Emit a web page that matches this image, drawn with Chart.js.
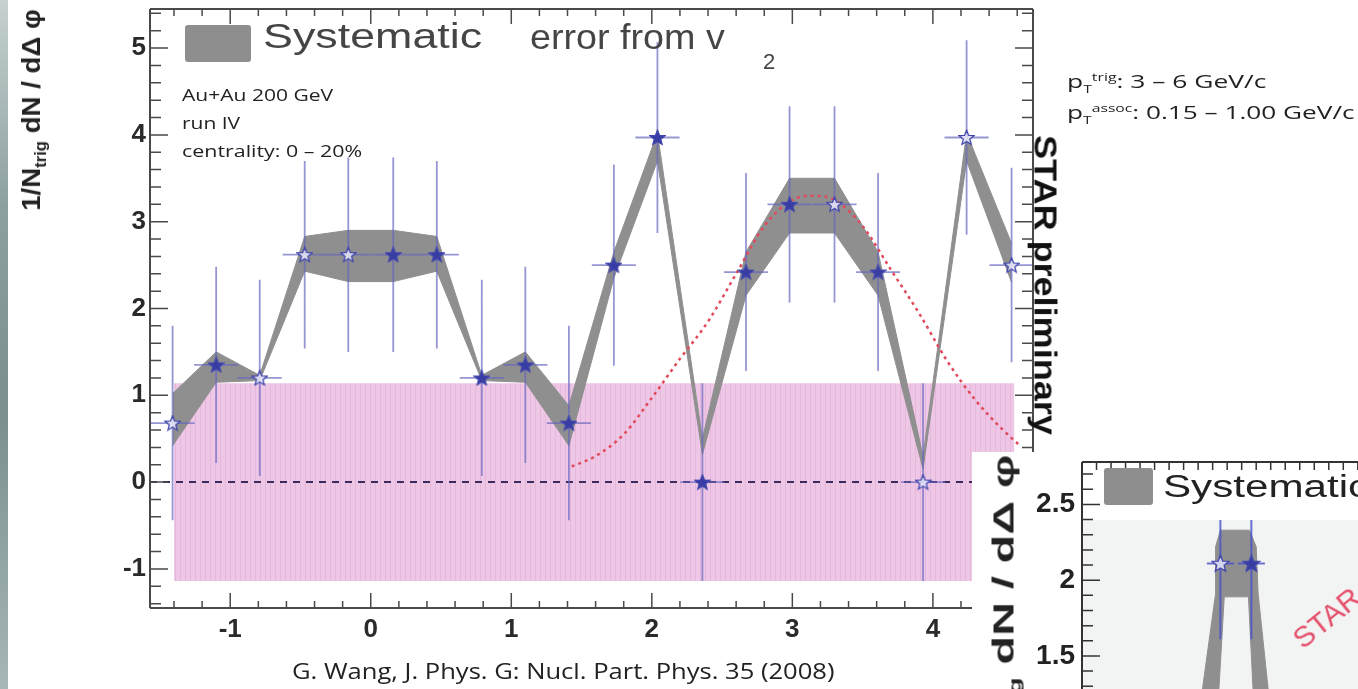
<!DOCTYPE html>
<html>
<head>
<meta charset="utf-8">
<title>Di-hadron correlation, Au+Au 200 GeV</title>
<script src="https://cdn.jsdelivr.net/npm/chart.js@4.4.1/dist/chart.umd.min.js"></script>
<style>
  html, body { margin: 0; padding: 0; background: #fff; width: 1358px; height: 689px; overflow: hidden; }
  canvas { position: absolute; left: 0; top: 0; }
  .t { position: absolute; white-space: nowrap; line-height: 1; transform-origin: 0 0; }
  .note { font-family: "Open Sans", sans-serif; color: #222; }
  .helv { font-family: "Liberation Sans", Arial, sans-serif; }
  sub, sup { line-height: 0; }
  #strip { position: absolute; left: 0; top: 0; width: 8px; height: 689px;
           background: linear-gradient(#c6d1d1, #8d9f9f 30%, #7b8f8f 60%, #a7b6b6); }
  #inset { position: absolute; left: 972px; top: 452px; width: 386px; height: 237px; overflow: hidden; background: #fff; }
  .swatch { position: absolute; background: #8e8e8e; border-radius: 3px; }
</style>
</head>
<body>
<div id="strip"></div>
<canvas id="mainChart" width="1358" height="689"></canvas>

<div class="swatch" style="left:185px;top:25px;width:66px;height:37px;"></div>
<div class="t helv" id="legA" style="font-size:35px;color:#454545;">Systematic</div>
<div class="t helv" id="legB" style="font-size:35px;color:#454545;">error from v</div>
<div class="t helv" id="legC" style="font-size:22px;color:#454545;">2</div>

<div class="t note" id="ann1" style="font-size:17px;">Au+Au 200 GeV</div>
<div class="t note" id="ann2" style="font-size:17px;">run IV</div>
<div class="t note" id="ann3" style="font-size:17px;">centrality: 0 – 20%</div>

<div class="t note" id="pt1" style="font-size:19px;">p<sub style="font-size:0.6em">T</sub><sup style="font-size:0.6em">trig</sup>: 3 – 6 GeV/c</div>
<div class="t note" id="pt2" style="font-size:19px;">p<sub style="font-size:0.6em">T</sub><sup style="font-size:0.6em">assoc</sup>: 0.15 – 1.00 GeV/c</div>

<div class="t helv" id="yTitle" style="font-size:26px;font-weight:bold;color:#222;">1/N<sub style="font-size:0.6em">trig</sub> dN / dΔ φ</div>
<div class="t helv" id="star" style="font-size:31px;font-weight:bold;color:#111;">STAR preliminary</div>
<div class="t note" id="caption" style="font-size:21px;">G. Wang, J. Phys. G: Nucl. Part. Phys. 35 (2008)</div>

<div id="inset">
  <canvas id="insetChart" width="420" height="320"></canvas>
  <div class="swatch" style="left:132px;top:16px;width:49px;height:37px;"></div>
  <div class="t helv" id="insLeg" style="font-size:31px;color:#222;">Systematic&nbsp;&nbsp;&nbsp;&nbsp;error from v<sub style="font-size:0.6em">2</sub></div>
  <div class="t helv" id="insTitle" style="font-size:29px;font-weight:bold;color:#222;">1/N<sub style="font-size:0.6em">trig</sub> dN / dΔ φ</div>
  <div class="t helv" id="insStar" style="font-size:30px;color:#e5506c;">STAR preliminary</div>
</div>

<script>
// ---- main panel data ----
const binCenters  = [-1.41, -1.10, -0.79, -0.47, -0.16, 0.16, 0.47, 0.79, 1.10, 1.41,
                      1.73, 2.04, 2.36, 2.67, 2.98, 3.30, 3.61, 3.93, 4.24, 4.56];
const yieldValues = [0.68, 1.35, 1.20, 2.62, 2.62, 2.62, 2.62, 1.20, 1.35, 0.68,
                     2.50, 3.97, 0.00, 2.42, 3.20, 3.20, 2.42, 0.00, 3.97, 2.50];
const statErrors  = [1.12, 1.13, 1.13, 1.08, 1.12, 1.12, 1.08, 1.13, 1.13, 1.12,
                     1.16, 1.10, 1.14, 1.14, 1.13, 1.13, 1.14, 1.14, 1.12, 1.12];
const binHalfWidth = 0.157;
const sysUpper = [1.02, 1.50, 1.23, 2.83, 2.90, 2.90, 2.83, 1.23, 1.50, 0.88,
                  2.65, 4.02, 0.50, 2.65, 3.50, 3.50, 2.65, 0.30, 4.02, 2.75];
const sysLower = [0.42, 1.15, 1.17, 2.43, 2.31, 2.31, 2.43, 1.17, 1.15, 0.42,
                  2.35, 3.70, 0.32, 2.15, 2.87, 2.87, 2.15, 0.15, 3.70, 2.30];
const openMarker = [true, false, true, true, true, false, false, false, false, false,
                    false, false, false, false, false, true, false, true, true, true];

// dotted red curve (v2 modulated background shape)
const curveX = [1.43, 1.60, 1.80, 2.00, 2.20, 2.40, 2.60, 2.80, 3.00, 3.14,
                3.30, 3.50, 3.70, 3.90, 4.10, 4.30, 4.50, 4.62];
const curveY = [0.18, 0.30, 0.55, 0.97, 1.42, 1.85, 2.40, 2.95, 3.25, 3.30,
                3.25, 2.95, 2.45, 1.95, 1.40, 0.95, 0.60, 0.42];

// pink flow-error box
const flowBoxX = [-1.40, 4.58];
const flowBoxTop = 1.14;
const flowBoxBottom = -1.14;

const xRange = [-1.5708, 4.7124];
const yRange = [-1.45, 5.45];
const xTickValues = [-1, 0, 1, 2, 3, 4];
const yTickValues = [-1, 0, 1, 2, 3, 4, 5];

// ---- inset data ----
const insetX = [1.43, 1.75];
const insetY = [2.11, 2.11];
const insetErr = [0.50, 0.50];
const insetHalfWidth = 0.14;
const insetOpen = [true, false];
const insetBandX = [1.21, 1.38, 1.38, 1.43, 1.73, 1.80, 1.82, 1.95, 1.78, 1.72, 1.47, 1.40, 1.21];
const insetBandY = [1.12, 1.91, 2.22, 2.33, 2.33, 2.22, 1.91, 1.12, 1.12, 1.89, 1.89, 1.12, 1.12];
const insetRange = [0.8, 2.78];
const insetTickValues = [1.5, 2, 2.5];

// ---------------------------------------------------------------------------
function starImage(filled, size) {
  const c = document.createElement("canvas");
  c.width = c.height = size;
  const g = c.getContext("2d");
  const m = size / 2;
  g.beginPath();
  for (let k = 0; k < 10; k++) {
    const r = k % 2 ? m * 0.4 : m * 0.92;
    const a = -Math.PI / 2 + (k * Math.PI) / 5;
    const px = m + r * Math.cos(a), py = m + 0.6 + r * Math.sin(a);
    k ? g.lineTo(px, py) : g.moveTo(px, py);
  }
  g.closePath();
  g.fillStyle = filled ? "#383da3" : "rgba(235,235,250,0.85)";
  g.fill();
  g.strokeStyle = "#4146ad";
  g.lineWidth = 1.3;
  g.stroke();
  return c;
}

function barPoints(xs, ys, errs) {
  const out = [];
  xs.forEach((x, i) => out.push({ x, y: ys[i] - errs[i] }, { x, y: ys[i] + errs[i] }, { x, y: null }));
  return out;
}
function hBarPoints(xs, ys, hw) {
  const out = [];
  xs.forEach((x, i) => out.push({ x: x - hw, y: ys[i] }, { x: x + hw, y: ys[i] }, { x, y: null }));
  return out;
}
const pts = (xs, ys) => xs.map((x, i) => ({ x, y: ys[i] }));

// inward ticks on the frame, ROOT style
const frameTicks = {
  id: "frameTicks",
  afterDatasetsDraw(chart, args, o) {
    const { ctx, chartArea: a } = chart;
    const xs = chart.scales.x, ys = chart.scales.y;
    const each = (scale, step, every, fn) => {
      const first = Math.ceil(scale.min / step - 1e-9);
      for (let i = first; i * step <= scale.max + 1e-9; i++) {
        fn(scale.getPixelForValue(i * step), Math.abs(i % every) === 0);
      }
    };
    ctx.save();
    ctx.strokeStyle = o.color;
    ctx.lineWidth = 2;
    ctx.beginPath();
    if (o.sides.includes("left")) { ctx.moveTo(a.left, a.top); ctx.lineTo(a.left, a.bottom); }
    if (o.sides.includes("right")) { ctx.moveTo(a.right, a.top); ctx.lineTo(a.right, a.bottom); }
    if (o.sides.includes("top")) { ctx.moveTo(a.left, a.top); ctx.lineTo(a.right, a.top); }
    if (o.sides.includes("bottom")) { ctx.moveTo(a.left, a.bottom); ctx.lineTo(a.right, a.bottom); }
    ctx.stroke();
    ctx.lineWidth = 1.5;
    ctx.beginPath();
    each(ys, o.yStep, o.yEvery, (p, major) => {
      const l = major ? o.yMajor : o.yMinor;
      if (o.sides.includes("left")) { ctx.moveTo(a.left, p); ctx.lineTo(a.left + l, p); }
      if (o.sides.includes("right")) { ctx.moveTo(a.right, p); ctx.lineTo(a.right - l, p); }
    });
    each(xs, o.xStep, o.xEvery, (p, major) => {
      const l = major ? o.xMajor : o.xMinor;
      if (o.sides.includes("top")) { ctx.moveTo(p, a.top); ctx.lineTo(p, a.top + l); }
      if (o.sides.includes("bottom")) { ctx.moveTo(p, a.bottom); ctx.lineTo(p, a.bottom - l); }
    });
    ctx.stroke();
    ctx.restore();
  },
};

Chart.defaults.font.family = "'Liberation Sans', Arial, sans-serif";
Chart.defaults.animation = false;

// ---- main chart ----
const mainCanvas = document.getElementById("mainChart");
const mctx = mainCanvas.getContext("2d");

const tile = document.createElement("canvas");
tile.width = 5; tile.height = 4;
const tg = tile.getContext("2d");
tg.fillStyle = "#efc7e6"; tg.fillRect(0, 0, 5, 4);
tg.fillStyle = "#e5b7da"; tg.fillRect(0, 0, 1, 4);
const pinkPattern = mctx.createPattern(tile, "repeat");

const openStar = starImage(false, 17), fullStar = starImage(true, 17);
const barColor = "rgba(100,100,190,0.68)";

new Chart(mctx, {
  type: "line",
  data: {
    datasets: [
      {
        label: "flow box",
        data: pts(flowBoxX, flowBoxX.map(() => flowBoxTop)),
        fill: { value: flowBoxBottom },
        backgroundColor: pinkPattern,
        borderWidth: 0,
        pointRadius: 0,
        order: 10,
      },
      {
        label: "zero",
        data: pts(xRange, [0, 0]),
        borderColor: "#3b2a5c",
        borderWidth: 2,
        borderDash: [7, 6],
        pointRadius: 0,
        order: 9,
      },
      {
        label: "sys lower",
        data: pts(binCenters, sysLower),
        borderColor: "#8f8f8f",
        borderWidth: 1,
        pointRadius: 0,
        order: 8,
      },
      {
        label: "sys upper",
        data: pts(binCenters, sysUpper),
        fill: "-1",
        backgroundColor: "#8f8f8f",
        borderColor: "#8f8f8f",
        borderWidth: 1,
        pointRadius: 0,
        order: 8,
      },
      {
        label: "stat errors",
        data: barPoints(binCenters, yieldValues, statErrors),
        borderColor: barColor,
        borderWidth: 1.8,
        pointRadius: 0,
        spanGaps: false,
        order: 6,
      },
      {
        label: "bin width",
        data: hBarPoints(binCenters, yieldValues, binHalfWidth),
        borderColor: barColor,
        borderWidth: 1.8,
        pointRadius: 0,
        spanGaps: false,
        order: 6,
      },
      {
        label: "v2 curve",
        data: pts(curveX, curveY),
        borderColor: "#e24a5c",
        borderWidth: 2.5,
        borderDash: [3, 4],
        cubicInterpolationMode: "monotone",
        pointRadius: 0,
        order: 2,
      },
      {
        label: "data",
        data: pts(binCenters, yieldValues),
        showLine: false,
        pointStyle: openMarker.map((o) => (o ? openStar : fullStar)),
        pointRadius: 8,
        order: 0,
      },
    ],
  },
  options: {
    responsive: false,
    layout: { padding: { left: 0, top: 8, right: 325, bottom: 0 } },
    plugins: {
      legend: { display: false },
      tooltip: { enabled: false },
      frameTicks: {
        color: "#4a4a4a",
        sides: ["left", "right", "top", "bottom"],
        xStep: 0.2, xEvery: 5, xMajor: 15, xMinor: 7,
        yStep: 0.2, yEvery: 5, yMajor: 18, yMinor: 11,
      },
    },
    scales: {
      x: {
        type: "linear",
        min: xRange[0],
        max: xRange[1],
        afterBuildTicks: (s) => { s.ticks = xTickValues.map((v) => ({ value: v })); },
        afterFit: (s) => { s.height = 81; s.paddingLeft = 0; s.paddingRight = 0; },
        grid: { display: false, drawTicks: false },
        border: { display: false },
        ticks: { color: "#2a2a2a", padding: 6, font: { size: 26, weight: "bold" } },
      },
      y: {
        type: "linear",
        min: yRange[0],
        max: yRange[1],
        afterBuildTicks: (s) => { s.ticks = yTickValues.map((v) => ({ value: v })); },
        afterFit: (s) => { s.width = 150; s.paddingTop = 0; s.paddingBottom = 0; },
        grid: { display: false, drawTicks: false },
        border: { display: false },
        ticks: { color: "#2a2a2a", padding: 4, font: { size: 26, weight: "bold" } },
      },
    },
  },
  plugins: [frameTicks],
});

// ---- inset chart (second panel partly covering the corner) ----
const insetPanel = {
  id: "insetPanel",
  beforeDatasetsDraw(chart) {
    const { ctx, chartArea: a } = chart;
    ctx.save();
    ctx.fillStyle = "#f2f4f4";
    ctx.fillRect(a.left, a.top, a.width, a.height);
    ctx.restore();
  },
  afterDatasetsDraw(chart) {
    const { ctx, chartArea: a } = chart;
    ctx.save();
    ctx.fillStyle = "#ffffff";
    ctx.fillRect(a.left + 1, a.top, a.width, 58);
    ctx.restore();
  },
};

const smallOpen = starImage(false, 19), smallFull = starImage(true, 19);

new Chart(document.getElementById("insetChart"), {
  type: "line",
  data: {
    datasets: [
      {
        label: "sys band",
        data: pts(insetBandX, insetBandY),
        fill: "shape",
        backgroundColor: "#8f8f8f",
        borderColor: "#8f8f8f",
        borderWidth: 1,
        pointRadius: 0,
        order: 8,
      },
      {
        label: "stat errors",
        data: barPoints(insetX, insetY, insetErr),
        borderColor: "rgba(70,80,200,0.8)",
        borderWidth: 2,
        pointRadius: 0,
        spanGaps: false,
        order: 6,
      },
      {
        label: "bin width",
        data: hBarPoints(insetX, insetY, insetHalfWidth),
        borderColor: "rgba(70,80,200,0.8)",
        borderWidth: 2,
        pointRadius: 0,
        spanGaps: false,
        order: 6,
      },
      {
        label: "data",
        data: pts(insetX, insetY),
        showLine: false,
        pointStyle: insetOpen.map((o) => (o ? smallOpen : smallFull)),
        pointRadius: 9,
        order: 0,
      },
    ],
  },
  options: {
    responsive: false,
    layout: { padding: { left: 0, top: 3, right: 0, bottom: 0 } },
    plugins: {
      legend: { display: false },
      tooltip: { enabled: false },
      frameTicks: {
        color: "#333",
        sides: ["left", "top"],
        xStep: 0.15, xEvery: 1000, xMajor: 8, xMinor: 8,
        yStep: 0.1, yEvery: 5, yMajor: 18, yMinor: 11,
      },
    },
    scales: {
      x: {
        type: "linear",
        min: 0,
        max: 3.1,
        afterFit: (s) => { s.height = 0; s.paddingLeft = 0; s.paddingRight = 0; },
        grid: { display: false, drawTicks: false },
        border: { display: false },
        ticks: { display: false },
      },
      y: {
        type: "linear",
        min: insetRange[0],
        max: insetRange[1],
        afterBuildTicks: (s) => { s.ticks = insetTickValues.map((v) => ({ value: v })); },
        afterFit: (s) => { s.width = 110; s.paddingTop = 0; s.paddingBottom = 0; },
        grid: { display: false, drawTicks: false },
        border: { display: false },
        ticks: {
          color: "#222",
          padding: 7,
          font: { size: 28, weight: "bold" },
          callback: (v) => String(v),
        },
      },
    },
  },
  plugins: [insetPanel, frameTicks],
});

// ---- text placement ----
function place(id, left, top, width) {
  const el = document.getElementById(id);
  el.style.left = left + "px";
  el.style.top = top + "px";
  if (width) el.style.transform = `scaleX(${width / el.offsetWidth})`;
}
function placeRotated(id, cx, cy, length, angle) {
  const el = document.getElementById(id);
  el.style.left = cx + "px";
  el.style.top = cy + "px";
  el.style.transform = `rotate(${angle}deg) scaleX(${length / el.offsetWidth}) translate(-50%, -50%)`;
}

place("legA", 263, 18, 219);
place("legB", 530, 19, 195);
place("legC", 763, 51);
place("ann1", 182, 86, 151);
place("ann2", 182, 114, 58);
place("ann3", 182, 142, 180);
place("pt1", 1067, 72, 200);
place("pt2", 1067, 103, 288);
place("caption", 292, 661, 543);
placeRotated("yTitle", 31, 110, 202, -90);
placeRotated("star", 1045, 285, 300, 90);

place("insLeg", 191, 19);
document.getElementById("insLeg").style.transform = "scaleX(1.36)";
placeRotated("insTitle", 32, 3 + 170, 340, -90);
const insStar = document.getElementById("insStar");
insStar.style.left = "334px";
insStar.style.top = "172px";
insStar.style.transformOrigin = "0 100%";
insStar.style.transform = "rotate(-39deg)";
</script>
</body>
</html>
